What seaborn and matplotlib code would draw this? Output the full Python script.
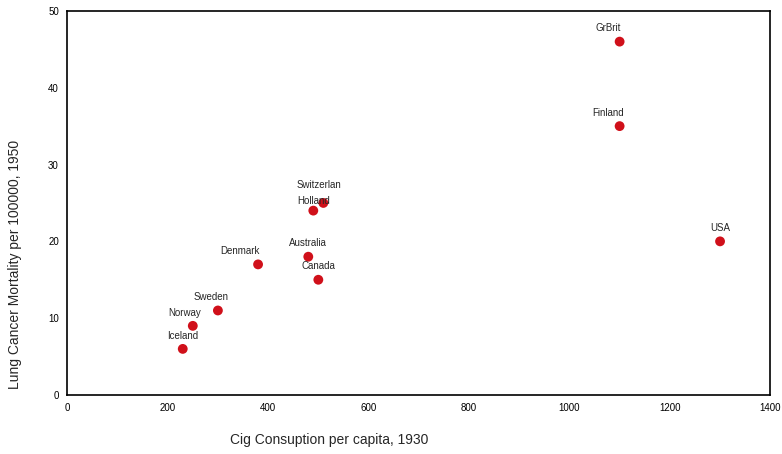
import pandas as pd
import matplotlib.pyplot as plt
import seaborn as sns

# data
countries = ["Iceland", "Norway", "Sweden", "Denmark", "Australia", "Canada",
             "Holland", "Switzerlan", "GrBrit", "Finland", "USA"]
cig_1930 = [230, 250, 300, 380, 480, 500, 490, 510, 1100, 1100, 1300]
mortality_1950 = [6, 9, 11, 17, 18, 15, 24, 25, 46, 35, 20]

df = pd.DataFrame({"country": countries, "cig": cig_1930, "mort": mortality_1950})

sns.set_style("white")
plt.rcParams["font.family"] = ["Liberation Sans", "DejaVu Sans"]

fig, ax = plt.subplots(figsize=(7.82, 4.54), dpi=100)
fig.subplots_adjust(left=0.086, right=0.985, top=0.976, bottom=0.13)

sns.scatterplot(data=df, x="cig", y="mort", ax=ax, color="#d0101a",
                s=50, edgecolor="none", zorder=3)

# labels sit just above each point
shift = {"Norway": (-6, 6), "Denmark": (-13, 6), "Sweden": (-5, 6),
         "Holland": (0, 3), "Switzerlan": (-3, 9), "GrBrit": (-8, 6),
         "Finland": (-8, 6)}
for c, x, y in zip(countries, cig_1930, mortality_1950):
    ax.annotate(c, (x, y), xytext=shift.get(c, (0, 6)), textcoords="offset points",
                ha="center", va="bottom", fontsize=7)

ax.set_xlim(0, 1400)
ax.set_ylim(0, 50)
ax.set_xticks(range(0, 1401, 200))
ax.set_yticks(range(0, 51, 10))
ax.tick_params(axis="both", direction="out", length=3, width=2, labelsize=7,
               colors="black", pad=3)

for sp in ax.spines.values():
    sp.set_color("black")
    sp.set_linewidth(1.2)

ax.set_xlabel("Cig Consuption per capita, 1930", fontsize=10)
ax.set_ylabel("Lung Cancer Mortality per 100000, 1950", fontsize=10)
ax.xaxis.set_label_coords(0.373, -0.1)
ax.yaxis.set_label_coords(-0.065, 0.34)

plt.savefig("out.png")
